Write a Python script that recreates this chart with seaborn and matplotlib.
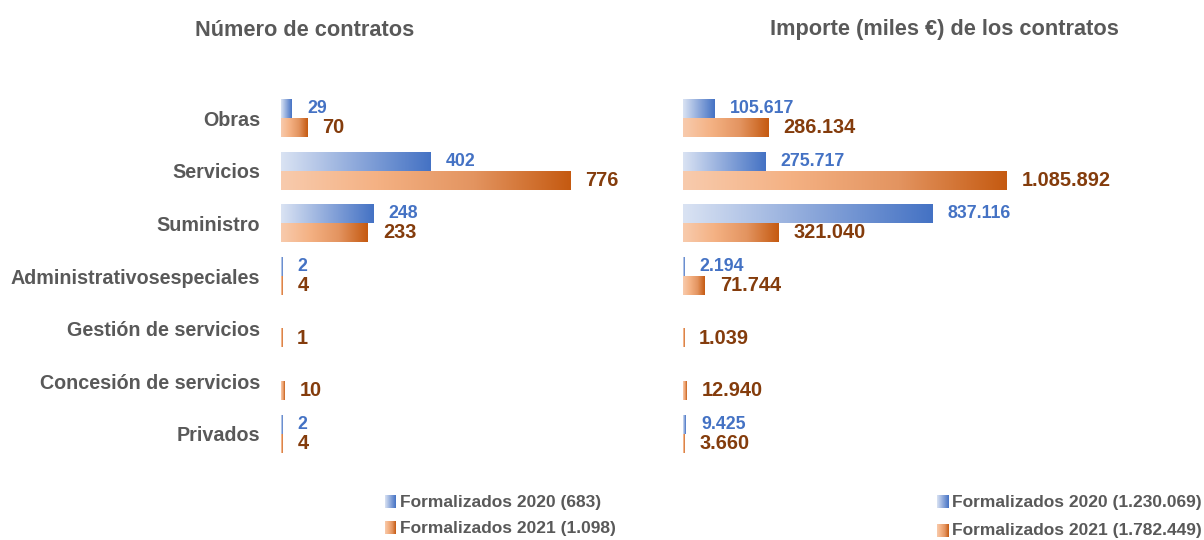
import numpy as np
import pandas as pd
import matplotlib.pyplot as plt
import seaborn as sns
from matplotlib.colors import LinearSegmentedColormap

# Datos
categorias = ['Obras', 'Servicios', 'Suministro', 'Administrativosespeciales',
              'Gestión de servicios', 'Concesión de servicios', 'Privados']
num_2020 = [29, 402, 248, 2, 0, 0, 2]
num_2021 = [70, 776, 233, 4, 1, 10, 4]
imp_2020 = [105617, 275717, 837116, 2194, 0, 0, 9425]
imp_2021 = [286134, 1085892, 321040, 71744, 1039, 12940, 3660]
series = ['Formalizados 2020', 'Formalizados 2021']
leyenda_num = ['Formalizados 2020 (683)', 'Formalizados 2021 (1.098)']
leyenda_imp = ['Formalizados 2020 (1.230.069)', 'Formalizados 2021 (1.782.449)']

sns.set_theme(style='white')
plt.rcParams['font.family'] = ['Liberation Sans', 'DejaVu Sans']
plt.rcParams['font.weight'] = 'bold'

cmap_azul = LinearSegmentedColormap.from_list('azul', ['#DAE3F3', '#8EA9DB', '#4472C4'])
cmap_naranja = LinearSegmentedColormap.from_list('naranja', ['#F8CBAD', '#F4B183', '#E39460', '#C55A11'])
cmaps = [cmap_azul, cmap_naranja]
col_texto = ['#4472C4', '#843C0C']
tam_texto = [12.8, 14.4]
gris = '#595959'
grad = np.linspace(0, 1, 256).reshape(1, -1)


def fmt(v):
    return f'{v:,}'.replace(',', '.')


def panel(ax, v2020, v2021, xmax, etiquetas):
    df = pd.DataFrame({
        'categoria': categorias * 2,
        'serie': [series[0]] * len(categorias) + [series[1]] * len(categorias),
        'valor': v2020 + v2021,
    })
    sns.barplot(data=df, y='categoria', x='valor', hue='serie', orient='h',
                palette=['#4472C4', '#C55A11'], width=0.72, legend=False, ax=ax)
    for i, cont in enumerate(ax.containers):
        for p, v in zip(cont.patches, [v2020, v2021][i]):
            p.set_visible(False)
            if v == 0:
                continue
            x0, y0, w, h = p.get_x(), p.get_y(), p.get_width(), p.get_height()
            ax.imshow(grad, cmap=cmaps[i], extent=[x0, x0 + max(w, xmax * 0.003), y0 + h, y0],
                      aspect='auto', zorder=2, interpolation='bilinear')
            ax.annotate(fmt(v), (x0 + w, y0 + h / 2), xytext=(11, 0), textcoords='offset points',
                        ha='left', va='center', fontsize=tam_texto[i], fontweight='bold',
                        color=col_texto[i])
    ax.set_xlim(0, xmax)
    ax.set_ylim(len(categorias) - 0.5, -0.5)
    ax.set_xlabel('')
    ax.set_ylabel('')
    ax.set_xticks([])
    sns.despine(ax=ax, left=True, bottom=True)
    if etiquetas:
        ax.tick_params(axis='y', length=0, pad=15, labelsize=14.2, labelcolor=gris)
        for t in ax.get_yticklabels():
            t.set_fontweight('bold')
    else:
        ax.set_yticks([])


fig = plt.figure(figsize=(12.04, 5.4), dpi=100)
ax1 = fig.add_axes([281 / 1204, 80 / 540, 360 / 1204, 368 / 540])
ax2 = fig.add_axes([683 / 1204, 80 / 540, 515 / 1204, 368 / 540])
panel(ax1, num_2020, num_2021, 360 / 0.3725, True)
panel(ax2, imp_2020, imp_2021, 515 / 0.000298, False)

fig.text(305 / 1204, 1 - 30 / 540, 'Número de contratos', ha='center', va='center',
         fontsize=15.7, fontweight='bold', color=gris)
fig.text(944 / 1204, 1 - 30 / 540, 'Importe (miles €) de los contratos', ha='center', va='center',
         fontsize=15.7, fontweight='bold', color=gris)

# Leyendas con marcador degradado
for (xm, ys, textos) in [(385, [502, 528], leyenda_num), (937, [502, 531], leyenda_imp)]:
    for i, (yy, txt) in enumerate(zip(ys, textos)):
        mk = fig.add_axes([xm / 1204, 1 - (yy + 6) / 540, 11 / 1204, 13 / 540])
        mk.imshow(grad, cmap=cmaps[i], aspect='auto')
        mk.axis('off')
        fig.text((xm + 15) / 1204, 1 - yy / 540, txt, ha='left', va='center',
                 fontsize=12.5, fontweight='bold', color=gris)

fig.savefig('out.png', dpi=100)
